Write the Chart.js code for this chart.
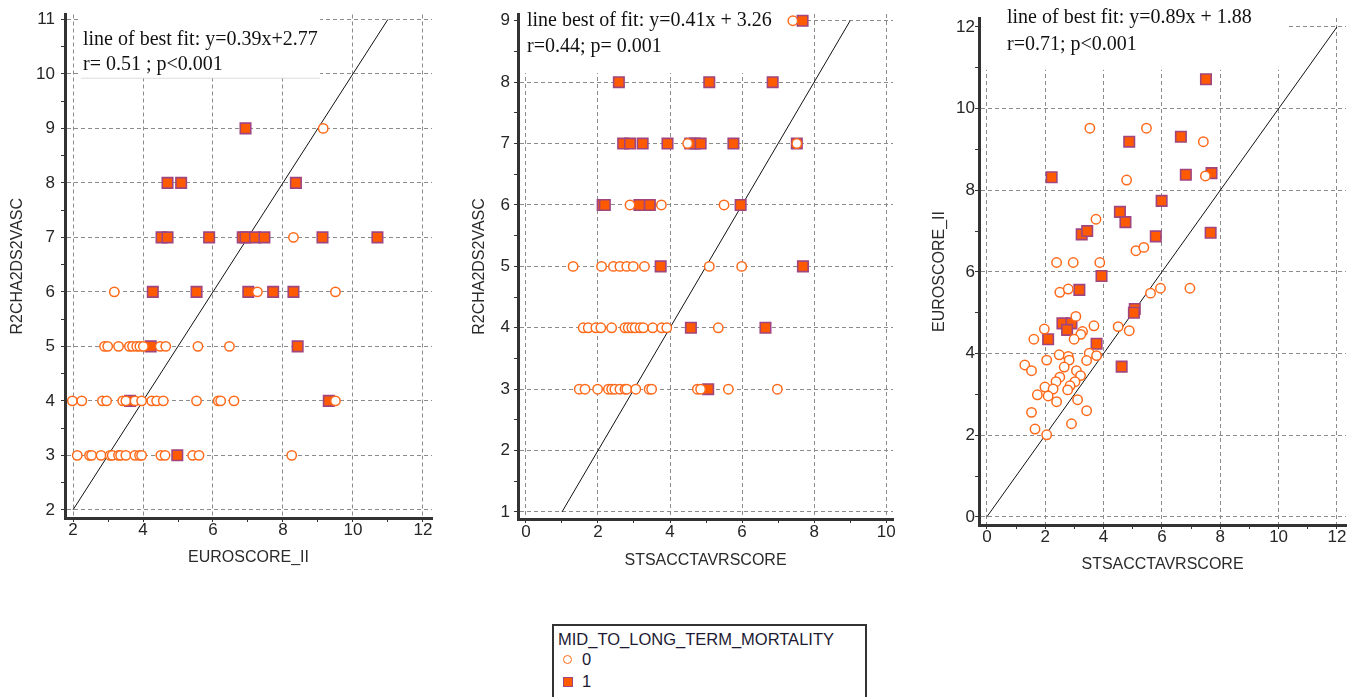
<!DOCTYPE html>
<html>
<head>
<meta charset="utf-8">
<script src="https://cdn.jsdelivr.net/npm/chart.js@4.4.0/dist/chart.umd.min.js"></script>
<style>
  body { margin: 0; background: #fff; width: 1360px; height: 697px; overflow: hidden; position: relative;
         font-family: 'Liberation Sans', Arial, sans-serif; }
  .pane { position: absolute; top: 0; height: 580px; }
  #legend { position: absolute; left: 552px; top: 624px; width: 315px; height: 80px; box-sizing: border-box;
            border: 2px solid #333; border-bottom-color: #ddd; color: #1c1a33; font-size: 16.5px; }
  #legend .t { position: absolute; left: 4px; top: 4px; line-height: 19px; white-space: nowrap; }
  #legend .lbl { position: absolute; left: 28px; line-height: 19px; }
  #legend .circ { position: absolute; left: 9px; width: 7px; height: 7px; border: 1.5px solid #ff6a1a; border-radius: 50%; background: #fff; }
  #legend .sq { position: absolute; left: 9px; width: 8px; height: 8px; border: 1.5px solid #a0457f; background: #ff5a00; }
</style>
</head>
<body>
<div class="pane" style="left:0;width:445px"><canvas id="chartA"></canvas></div>
<div class="pane" style="left:455px;width:450px"><canvas id="chartB"></canvas></div>
<div class="pane" style="left:915px;width:445px"><canvas id="chartC"></canvas></div>
<div id="legend">
  <div class="t">MID_TO_LONG_TERM_MORTALITY</div>
  <div class="circ" style="top:29px"></div><div class="lbl" style="top:24px">0</div>
  <div class="sq" style="top:51px"></div><div class="lbl" style="top:46px">1</div>
</div>
<script>
// ---- panel A: EUROSCORE_II vs R2CHA2DS2VASC ----
const euroTicksA = [2, 4, 6, 8, 10, 12];
const r2TicksA = [2, 3, 4, 5, 6, 7, 8, 9, 10, 11];
const euroA0 = [9.15, 8.30, 3.18, 7.27, 9.50,
  2.90, 2.99, 3.30, 3.61, 3.70, 3.82, 3.91, 4.01, 4.49, 4.65, 5.57, 6.47,
  1.98, 2.25, 2.84, 2.96, 3.42, 3.51, 3.77, 3.96, 4.25, 4.39, 4.58, 5.53, 6.15, 6.22, 6.60, 9.50,
  2.12, 2.47, 2.53, 2.80, 3.06, 3.12, 3.30, 3.36, 3.51, 3.77, 3.90, 3.96, 4.51, 4.63, 5.42, 5.60, 8.25];
const r2A0 = [9, 7, 6, 6, 6,
  5, 5, 5, 5, 5, 5, 5, 5, 5, 5, 5, 5,
  4, 4, 4, 4, 4, 4, 4, 4, 4, 4, 4, 4, 4, 4, 4, 4,
  3, 3, 3, 3, 3, 3, 3, 3, 3, 3, 3, 3, 3, 3, 3, 3, 3];
const euroA1 = [6.93, 4.70, 5.09, 8.37,
  4.53, 4.70, 5.89, 6.85, 6.93, 7.20, 7.47, 9.13, 10.70,
  4.28, 5.53, 7.01, 7.72, 8.30, 4.22, 8.42, 3.63, 9.31, 4.98];
const r2A1 = [9, 8, 8, 8,
  7, 7, 7, 7, 7, 7, 7, 7, 7,
  6, 6, 6, 6, 6, 5, 5, 4, 4, 3];
const identityA = [2, 11];

// ---- panel B: STSACCTAVRSCORE vs R2CHA2DS2VASC ----
const stsTicksB = [0, 2, 4, 6, 8, 10];
const r2TicksB = [1, 2, 3, 4, 5, 6, 7, 8, 9];
const stsB0 = [7.41, 4.49, 7.52, 2.89, 3.76, 5.50,
  1.31, 2.10, 2.43, 2.61, 2.80, 2.98, 3.29, 5.09, 5.99,
  1.59, 1.73, 1.94, 2.08, 2.38, 2.75, 2.84, 2.94, 3.03, 3.17, 3.26, 3.52, 3.77, 3.91, 5.34,
  1.48, 1.64, 1.99, 2.29, 2.38, 2.47, 2.61, 2.75, 2.80, 3.05, 3.42, 3.49, 4.76, 4.85, 5.62, 6.98];
const r2B0 = [9, 7, 7, 6, 6, 6,
  5, 5, 5, 5, 5, 5, 5, 5, 5,
  4, 4, 4, 4, 4, 4, 4, 4, 4, 4, 4, 4, 4, 4, 4,
  3, 3, 3, 3, 3, 3, 3, 3, 3, 3, 3, 3, 3, 3, 3, 3];
const stsB1 = [7.68, 2.58, 5.09, 6.85,
  2.70, 2.89, 3.24, 3.93, 4.56, 4.69, 4.85, 5.76, 7.52,
  2.13, 2.19, 3.15, 3.44, 5.96, 3.74, 7.69, 4.58, 6.65, 5.06];
const r2B1 = [9, 8, 8, 8,
  7, 7, 7, 7, 7, 7, 7, 7, 7,
  6, 6, 6, 6, 6, 5, 5, 4, 4, 3];
const identityB = [1, 9];

// ---- panel C: STSACCTAVRSCORE vs EUROSCORE_II ----
const stsTicksC = [0, 2, 4, 6, 8, 10, 12];
const euroTicksC = [0, 2, 4, 6, 8, 10, 12];
const stsC0 = [3.53, 5.47, 7.42, 4.79, 7.49, 3.74, 5.11, 5.38, 2.39, 2.96, 3.87, 2.50, 2.79, 5.95, 5.61, 6.96,
  3.05, 1.97, 3.67, 4.50, 4.88, 3.28, 3.22, 2.99, 1.61, 3.51, 3.76, 2.48, 2.79, 2.82, 2.05, 3.42,
  1.30, 1.53, 2.65, 3.07, 3.21, 2.50, 2.37, 3.02, 2.85, 1.99, 2.27, 2.77, 1.73, 2.10, 2.39, 3.11,
  3.42, 1.53, 2.90, 1.65, 2.05];
const euroC0 = [9.52, 9.52, 9.19, 8.25, 8.35, 7.29, 6.52, 6.60, 6.23, 6.23, 6.23, 5.50, 5.58, 5.60, 5.48, 5.60,
  4.91, 4.60, 4.68, 4.66, 4.56, 4.54, 4.47, 4.35, 4.35, 4.01, 3.95, 3.97, 3.93, 3.84, 3.84, 3.83,
  3.72, 3.58, 3.67, 3.58, 3.46, 3.42, 3.31, 3.31, 3.21, 3.18, 3.13, 3.11, 2.99, 2.96, 2.82, 2.87,
  2.60, 2.56, 2.28, 2.15, 2.01];
const stsC1 = [7.51, 4.88, 6.65, 2.22, 6.82, 7.70, 5.99, 4.56, 4.75, 3.25, 3.44, 5.79, 7.67,
  3.93, 3.17, 5.07, 5.04, 2.59, 2.90, 2.75, 2.10, 3.76, 4.62];
const euroC1 = [10.72, 9.19, 9.31, 8.32, 8.38, 8.42, 7.74, 7.47, 7.22, 6.92, 7.00, 6.87, 6.96,
  5.90, 5.56, 5.09, 5.00, 4.74, 4.74, 4.58, 4.35, 4.24, 3.68];
const identityC = [0, 12];

const tickFont = { family: "'Liberation Sans', Arial, sans-serif", size: 17, lineHeight: 1 };
const titleFont = { family: "'Liberation Sans', Arial, sans-serif", size: 16 };
const toPoints = (xs, ys) => xs.map((x, i) => ({ x, y: ys[i] }));
const withMinors = (majors) => {
    const all = [];
    majors.forEach((v, i) => {
        all.push(v);
        if (i < majors.length - 1) all.push((v + majors[i + 1]) / 2);
    });
    return all;
};

// white box with the fit text, drawn over the grid but under the points
const fitNote = {
    id: 'fitNote',
    beforeDatasetsDraw(chart, args, o) {
        const { ctx, chartArea, scales } = chart;
        const x0 = chartArea.left + o.boxLeft;
        const x1 = scales.x.getPixelForValue(o.boxX);
        const y1 = scales.y.getPixelForValue(o.boxY);
        ctx.save();
        ctx.fillStyle = '#fff';
        ctx.fillRect(x0, chartArea.top - 1, x1 - x0, y1 - chartArea.top + 1);
        if (o.edge) {
            ctx.strokeStyle = '#dcdcdc';
            ctx.lineWidth = 1;
            ctx.beginPath();
            ctx.moveTo(x0, y1 + 0.5);
            ctx.lineTo(x1, y1 + 0.5);
            ctx.stroke();
        }
        ctx.fillStyle = '#111';
        ctx.font = "20px 'Liberation Serif', 'Times New Roman', serif";
        ctx.textBaseline = 'middle';
        o.lines.forEach((t, i) => {
            ctx.fillText(t, chartArea.left + o.dx, chartArea.top + o.dy + i * o.gap);
        });
        ctx.restore();
    }
};

function axis(cfg) {
    const majors = cfg.ticks;
    const all = withMinors(majors);
    return {
        type: 'linear',
        min: cfg.min,
        max: cfg.max,
        afterBuildTicks: (s) => { s.ticks = all.map(v => ({ value: v })); },
        afterFit: (s) => {
            if (s.isHorizontal()) s.height = cfg.size; else s.width = cfg.size;
        },
        ticks: {
            autoSkip: false,
            maxRotation: 0,
            padding: cfg.pad,
            color: '#262626',
            font: tickFont,
            callback: (v) => majors.includes(v) ? String(v) : ''
        },
        grid: {
            color: (c) => (c.tick && majors.includes(c.tick.value)) ? '#8c8c8c' : 'rgba(0,0,0,0)',
            tickColor: '#333',
            tickLength: 4,
            lineWidth: 1
        },
        border: { display: true, color: '#333', width: 3, dash: [4, 3] },
        title: { display: true, text: cfg.title, color: '#2b2b2b', font: titleFont, padding: cfg.titlePad }
    };
}

function makeChart(id, p) {
    new Chart(document.getElementById(id), {
        type: 'scatter',
        data: {
            datasets: [
                {
                    label: '0',
                    data: toPoints(p.x0, p.y0),
                    pointStyle: 'circle',
                    pointRadius: 4.7,
                    borderWidth: 1.5,
                    borderColor: '#ff6a1a',
                    backgroundColor: '#fff'
                },
                {
                    label: '1',
                    data: toPoints(p.x1, p.y1),
                    pointStyle: 'rect',
                    pointRadius: 7.4,
                    borderWidth: 1.6,
                    borderColor: '#a0457f',
                    backgroundColor: '#ff5a00'
                },
                {
                    label: 'identity',
                    data: toPoints(p.line, p.line),
                    showLine: true,
                    pointRadius: 0,
                    borderColor: '#111',
                    borderWidth: 1
                }
            ]
        },
        options: {
            responsive: true,
            maintainAspectRatio: false,
            animation: false,
            events: [],
            layout: { padding: p.padding },
            scales: { x: p.xAxis, y: p.yAxis },
            plugins: {
                legend: { display: false },
                tooltip: { enabled: false },
                fitNote: p.note
            }
        },
        plugins: [fitNote]
    });
}

makeChart('chartA', {
    x0: euroA0, y0: r2A0, x1: euroA1, y1: r2A1, line: identityA,
    padding: { left: 0, right: 13, top: 12, bottom: 0 },
    xAxis: axis({ ticks: euroTicksA, min: 1.77, max: 12.26, size: 62, pad: 0, title: 'EUROSCORE_II', titlePad: { top: 0, bottom: 13 } }),
    yAxis: axis({ ticks: r2TicksA, min: 1.85, max: 11.09, size: 65, pad: 6, title: 'R2CHA2DS2VASC', titlePad: { top: 8, bottom: 0 } }),
    note: { lines: ['line of best fit: y=0.39x+2.77', 'r= 0.51 ; p<0.001'], dx: 18, dy: 25, gap: 25.3,
            boxLeft: 16, boxX: 9.06, boxY: 9.93, edge: true }
});

makeChart('chartB', {
    x0: stsB0, y0: r2B0, x1: stsB1, y1: r2B1, line: identityB,
    padding: { left: 0, right: 12, top: 14, bottom: 0 },
    xAxis: axis({ ticks: stsTicksB, min: -0.22, max: 10.19, size: 61, pad: 1, title: 'STSACCTAVRSCORE', titlePad: { top: 0, bottom: 10 } }),
    yAxis: axis({ ticks: r2TicksB, min: 0.886, max: 9.11, size: 63, pad: 4, title: 'R2CHA2DS2VASC', titlePad: { top: 15, bottom: 0 } }),
    note: { lines: ['line best of fit: y=0.41x + 3.26', 'r=0.44; p= 0.001'], dx: 9, dy: 7, gap: 25.7,
            boxLeft: 2, boxX: 7.8, boxY: 8.15, edge: false }
});

makeChart('chartC', {
    x0: stsC0, y0: euroC0, x1: stsC1, y1: euroC1, line: identityC,
    padding: { left: 0, right: 14, top: 18, bottom: 0 },
    xAxis: axis({ ticks: stsTicksC, min: -0.27, max: 12.31, size: 55, pad: 0, title: 'STSACCTAVRSCORE', titlePad: { top: 0, bottom: 6 } }),
    yAxis: axis({ ticks: euroTicksC, min: -0.2, max: 12.22, size: 64, pad: 0, title: 'EUROSCORE_II', titlePad: { top: 15, bottom: 0 } }),
    note: { lines: ['line of best fit: y=0.89x + 1.88', 'r=0.71; p<0.001'], dx: 28, dy: 0, gap: 26.7,
            boxLeft: 2, boxX: 10.3, boxY: 10.95, edge: false }
});
</script>
</body>
</html>
